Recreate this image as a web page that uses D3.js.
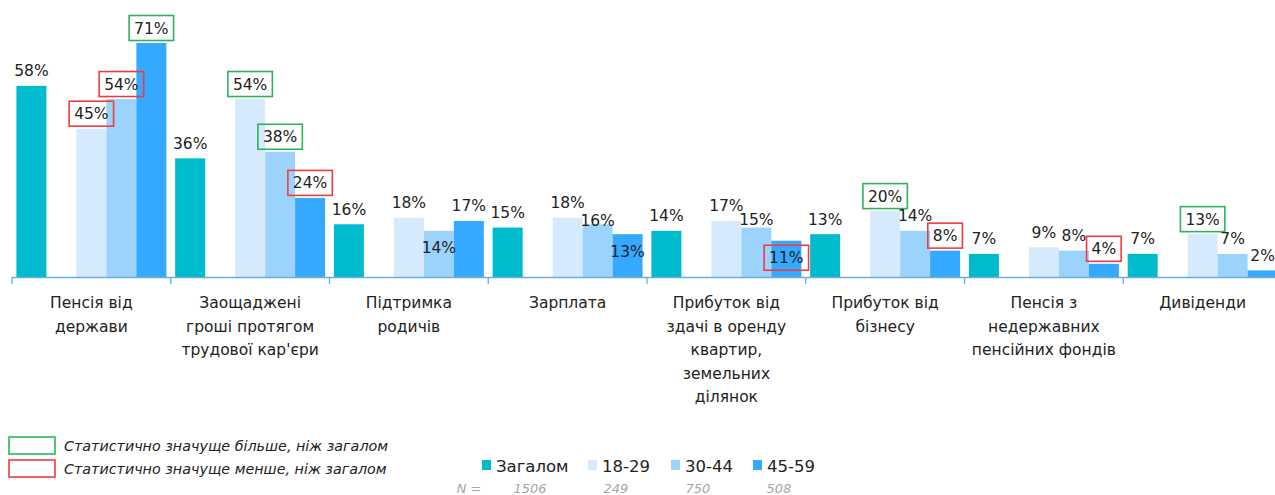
<!DOCTYPE html>
<html><head><meta charset="utf-8">
<script src="https://cdn.jsdelivr.net/npm/d3@7"></script>
<style>
html,body{margin:0;padding:0;background:#fff;}
svg{display:block;font-family:"DejaVu Sans",sans-serif;}
</style></head>
<body><svg id="chart" width="1275" height="495"></svg>
<script>
const categories = [
  "Пенсія від\nдержави",
  "Заощаджені\nгроші протягом\nтрудової кар'єри",
  "Підтримка\nродичів",
  "Зарплата",
  "Прибуток від\nздачі в оренду\nквартир,\nземельних\nділянок",
  "Прибуток від\nбізнесу",
  "Пенсія з\nнедержавних\nпенсійних фондів",
  "Дивіденди"
];
const seriesNames = ["Загалом", "18-29", "30-44", "45-59"];
const sampleN = ["1506", "249", "750", "508"];
const valTotal = [58, 36, 16, 15, 14, 13, 7, 7];
const val18 = [45, 54, 18, 18, 17, 20, 9, 13];
const val30 = [54, 38, 14, 16, 15, 14, 8, 7];
const val45 = [71, 24, 17, 13, 11, 8, 4, 2];
const sigTotal = ["", "", "", "", "", "", "", ""];
const sig18 = ["-", "+", "", "", "", "+", "", "+"];
const sig30 = ["-", "+", "", "", "", "", "", ""];
const sig45 = ["+", "-", "", "", "-", "-", "-", ""];
const legendSig = ["Статистично значуще більше, ніж загалом", "Статистично значуще менше, ніж загалом"];

// styling
const colors = {"Загалом":"#00BACD","18-29":"#D5EAFC","30-44":"#9CD3FC","45-59":"#35A9FF"};
const sigColors = {"+":"#2EB35A","-":"#F23C3C"};
// label offsets (label-centre relative to bar top), keyed "catIndex-series"
const labelShift = {"2-30-44":17, "3-30-44":-4, "3-45-59":17, "4-30-44":-8, "4-45-59":17};

const seriesVals = [valTotal, val18, val30, val45];
const seriesSig = [sigTotal, sig18, sig30, sig45];
const data = [];
categories.forEach((c, i) => {
  seriesNames.forEach((s, j) => {
    data.push({cat: c, ci: i, series: s, value: seriesVals[j][i], sig: seriesSig[j][i]});
  });
});

const svg = d3.select("#chart");
const baseY = 277;
const x = d3.scaleBand().domain(categories).range([12, 1282]).paddingInner(0).paddingOuter(0);
const xs = d3.scaleBand().domain(["Загалом", "_gap", "18-29", "30-44", "45-59"])
  .range([0, x.bandwidth()]).paddingInner(0).paddingOuter(0.147);
const y = d3.scaleLinear().domain([0, 71]).range([baseY, 43]);

// bars
svg.append("g").selectAll("rect").data(data).join("rect")
  .attr("x", d => x(d.cat) + xs(d.series))
  .attr("y", d => y(d.value))
  .attr("width", xs.bandwidth())
  .attr("height", d => baseY - y(d.value))
  .attr("fill", d => colors[d.series]);

// axis
const axis = svg.append("g");
axis.append("line").attr("x1", 12).attr("x2", 1282).attr("y1", baseY + 0.5).attr("y2", baseY + 0.5)
  .attr("stroke", "#6AAEE0").attr("stroke-width", 1.3);
const tickXs = categories.map(c => x(c)).concat([x.range()[1]]);
axis.selectAll("line.tk").data(tickXs).join("line").attr("class", "tk")
  .attr("x1", d => d).attr("x2", d => d).attr("y1", baseY).attr("y2", baseY + 7)
  .attr("stroke", "#6AAEE0").attr("stroke-width", 1.3);

// category labels
const catG = svg.append("g");
categories.forEach(c => {
  const lines = c.split("\n");
  const t = catG.append("text").attr("text-anchor", "middle").attr("font-size", 15.5).attr("fill", "#222");
  lines.forEach((ln, k) => {
    t.append("tspan").attr("x", x(c) + x.bandwidth() / 2).attr("y", 308 + k * 23.5).text(ln);
  });
});

// value labels
const lblG = svg.append("g");
data.forEach(d => {
  const cx = x(d.cat) + xs(d.series) + xs.bandwidth() / 2;
  const shift = labelShift[d.ci + "-" + d.series];
  const cy = y(d.value) + (shift !== undefined ? shift : -15);
  const t = lblG.append("text").attr("x", cx).attr("y", cy + 5.5).attr("text-anchor", "middle")
    .attr("font-size", 15.5).attr("fill", "#222").text(d.value + "%");
  if (d.sig) {
    const bb = t.node().getBBox();
    lblG.insert("rect", "text").attr("x", cx - bb.width / 2 - 5).attr("y", cy - 12.5)
      .attr("width", bb.width + 10).attr("height", 25)
      .attr("fill", "none").attr("stroke", sigColors[d.sig]).attr("stroke-width", 1.6);
  }
});

// significance legend
const sl = svg.append("g");
legendSig.forEach((txt, i) => {
  const yy = 437 + i * 23;
  sl.append("rect").attr("x", 9).attr("y", yy).attr("width", 46).attr("height", 17)
    .attr("fill", "none").attr("stroke", i === 0 ? sigColors["+"] : sigColors["-"]).attr("stroke-width", 1.6);
  sl.append("text").attr("x", 64).attr("y", yy + 14).attr("font-size", 14.3).attr("font-style", "italic")
    .attr("fill", "#222").text(txt);
});

// series legend
const lg = svg.append("g");
const legX = [482, 588, 671, 753];
const nX = [530, 616, 698, 779];
seriesNames.forEach((s, i) => {
  lg.append("rect").attr("x", legX[i]).attr("y", 460).attr("width", 9).attr("height", 10).attr("fill", colors[s]);
  lg.append("text").attr("x", legX[i] + 14).attr("y", 472).attr("font-size", 16.5).attr("fill", "#222").text(s);
  lg.append("text").attr("x", nX[i]).attr("y", 493).attr("text-anchor", "middle").attr("font-size", 13)
    .attr("font-style", "italic").attr("fill", "#A6A6A6").text(sampleN[i]);
});
lg.append("text").attr("x", 469).attr("y", 493).attr("text-anchor", "middle").attr("font-size", 13)
  .attr("font-style", "italic").attr("fill", "#A6A6A6").text("N =");
</script></body></html>
